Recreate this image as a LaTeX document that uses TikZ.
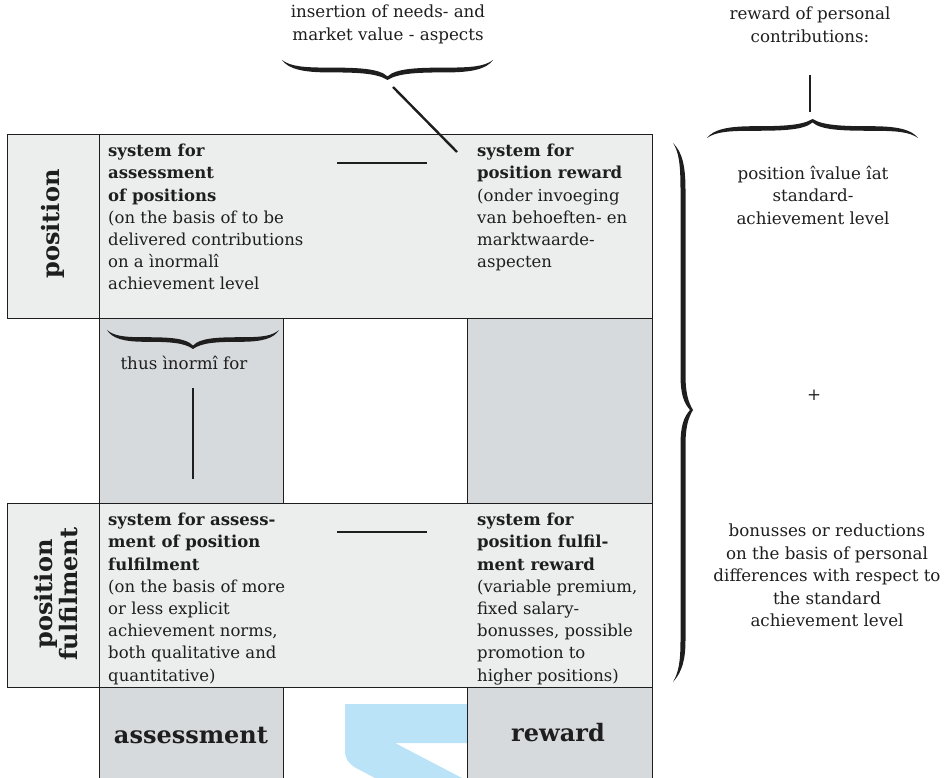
\documentclass[tikz,border=0pt]{standalone}
\usepackage{fontspec}
\setmainfont{DejaVu Serif}
\definecolor{band}{HTML}{ECEDED}
\definecolor{col}{HTML}{D7DADD}
\definecolor{logo}{HTML}{BBE3F8}
\definecolor{ink}{HTML}{1E1E1E}
\newcommand{\curlypath}{(0,0) .. controls (0.04,0.32) and (0.1,0.38) .. (0.22,0.38) .. controls (0.36,0.38) and (0.46,0.42) .. (0.5,0.82) .. controls (0.54,0.42) and (0.64,0.38) .. (0.78,0.38) .. controls (0.9,0.38) and (0.96,0.32) .. (1,0) .. controls (0.97,0.45) and (0.9,0.62) .. (0.78,0.62) .. controls (0.64,0.62) and (0.55,0.66) .. (0.5,1) .. controls (0.45,0.66) and (0.36,0.62) .. (0.22,0.62) .. controls (0.1,0.62) and (0.03,0.45) .. (0,0) -- cycle}
\begin{document}
\begin{tikzpicture}[x=1pt,y=-1pt,
  frame/.style={draw=ink, line width=0.8pt},
  body/.style={font=\fontsize{16.5}{22.2}\selectfont, inner sep=0pt, align=left, anchor=north west, text=ink},
  side/.style={font=\fontsize{16.7}{22.4}\selectfont, inner sep=0pt, align=center, anchor=north, text=ink},
  biglabel/.style={font=\fontsize{24}{25}\selectfont\bfseries, inner sep=0pt, text=ink, align=center},
  bar/.style={draw=ink, line width=2.8pt},
  link/.style={draw=ink, line width=2.4pt},
  curly/.style={fill=ink}
]
\useasboundingbox (0,0) rectangle (947,778);
% logo fragment
\fill[logo] (345,704) -- (467,704) -- (467,743) -- (395,743) -- (462,778) -- (375,778) -- (356,768) .. controls (348,763) and (345,759) .. (345,750) -- cycle;
% fills
\fill[band] (7,134) rectangle (652,318);
\fill[band] (7,503) rectangle (652,687);
\fill[col] (99,318) rectangle (283,503);
\fill[col] (467,318) rectangle (652,503);
\fill[col] (99,687) rectangle (283,778);
\fill[col] (467,687) rectangle (652,778);
% frames
\draw[frame] (7,134) rectangle (652,318);
\draw[frame] (7,503) rectangle (652,687);
\draw[frame] (99,134) -- (99,778);
\draw[frame] (283,318) -- (283,503) (467,318) -- (467,503) (652,318) -- (652,503);
\draw[frame] (283,687) -- (283,778) (467,687) -- (467,778) (652,687) -- (652,778);
% row labels
\node[biglabel, rotate=90] (rowpos) at (53,224) {position};
\node[biglabel, rotate=90] (rowful) at (56,594) {position\\fulfilment};
\node[biglabel] (colass) at (191,735) {assessment};
\node[biglabel] (colrew) at (558,733) {reward};
% cell texts
\node[body] (posass) at (108,144) {\textbf{system for}\\\textbf{assessment}\\\textbf{of positions}\\(on the basis of to be\\delivered contributions\\on a ìnormalî\\achievement level};
\node[body] (posrew) at (477,144) {\textbf{system for}\\\textbf{position reward}\\(onder invoeging\\van behoeften- en\\marktwaarde-\\aspecten};
\node[body] (fulass) at (108,513) {\textbf{system for assess-}\\\textbf{ment of position}\\\textbf{fulfilment}\\(on the basis of more\\or less explicit\\achievement norms,\\both qualitative and\\quantitative)};
\node[body] (fulrew) at (477,513) {\textbf{system for}\\\textbf{position fulfil-}\\\textbf{ment reward}\\(variable premium,\\fixed salary-\\bonusses, possible\\promotion to\\higher positions)};
% bars between cells
\coordinate (b1l) at (337,163); \coordinate (b1r) at (427,163);
\coordinate (b2l) at (337,532); \coordinate (b2r) at (427,532);
\draw[bar] (b1l) -- (b1r);
\draw[bar] (b2l) -- (b2r);
% top annotation
\node[side] (ins) at (388,5) {insertion of needs- and\\market value - aspects};
\begin{scope}[shift={(282,60)}, x={(211,0)}, y={(0,20)}]
  \fill[curly] \curlypath;
\end{scope}
\coordinate (insA) at (393,87);
\coordinate (insB) at (457,152);
\draw[link] (insA) -- (insB);
% thus norm
\begin{scope}[shift={(107,330)}, x={(172,0)}, y={(0,19)}]
  \fill[curly] \curlypath;
\end{scope}
\node[side] (thus) at (184,356) {thus ìnormî for};
\coordinate (thA) at (193,388);
\coordinate (thB) at (193,479);
\draw[link] (thA) -- (thB);
% right side
\node[side] (rewp) at (810,7) {reward of personal\\contributions:};
\coordinate (rpA) at (810,75);
\coordinate (rpB) at (810,112);
\draw[link] (rpA) -- (rpB);
\begin{scope}[shift={(707,138)}, x={(211,0)}, y={(0,-19)}]
  \fill[curly] \curlypath;
\end{scope}
\fill[curly] (673,143) .. controls (679,152) and (680.5,165) .. (680.5,190) -- (680.5,375) .. controls (680.5,395) and (684,403) .. (690,410) .. controls (684,417) and (680.5,425) .. (680.5,445) -- (680.5,640) .. controls (680.5,660) and (679,672) .. (673,682) .. controls (682,672) and (685.5,660) .. (685.5,640) -- (685.5,445) .. controls (685.5,428) and (688,418) .. (693,410) .. controls (688,402) and (685.5,392) .. (685.5,375) -- (685.5,190) .. controls (685.5,165) and (682,152) .. (673,143) -- cycle;
\node[side] (posval) at (813,166) {position îvalue îat\\standard-\\achievement level};
\node[side] (plus) at (814,390) {+};
\node[side] (bonus) at (827,524) {bonusses or reductions\\on the basis of personal\\differences with respect to\\the standard\\achievement level};
\end{tikzpicture}
\end{document}
